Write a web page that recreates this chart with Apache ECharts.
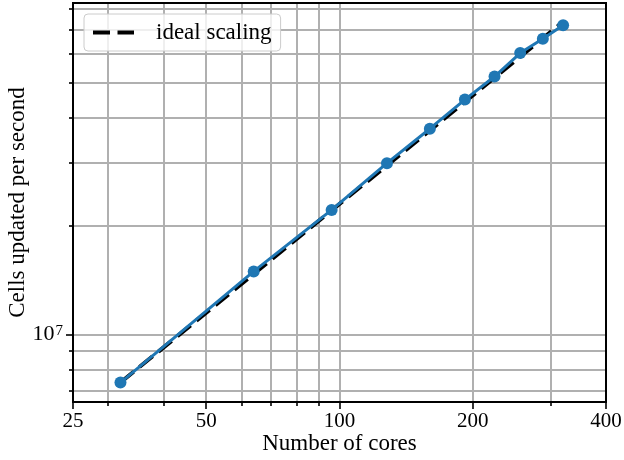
<!DOCTYPE html>
<html>
<head>
<meta charset="utf-8">
<script src="https://cdn.jsdelivr.net/npm/echarts@6/dist/echarts.min.js"></script>
<style>
  html, body { margin: 0; padding: 0; background: #fff; }
  #chart { width: 624px; height: 460px; }
</style>
</head>
<body>
<div id="chart"></div>
<script>
// Strong-scaling measurement: throughput against core count
const cores = [32, 64, 96, 128, 160, 192, 224, 256, 288, 320];
const cellsPerSecond = [7.36e6, 1.496e7, 2.215e7, 2.985e7, 3.72e7, 4.48e7, 5.19e7, 6.03e7, 6.61e7, 7.20e7];

// Ideal (linear) scaling reference line, from the 32-core run out to 320 cores
const idealCores = [32, 320];
const idealCells = [7.36e6, 7.36e7];

// Tick positions
const xMajorTicks = [25, 50, 100, 200, 400];
const xMinorTicks = [30, 40, 60, 70, 80, 90, 300];
const yMajorTicks = [1e7];
const yMinorTicks = [7e6, 8e6, 9e6, 2e7, 3e7, 4e7, 5e7, 6e7, 7e7, 8e7];

const FONT = 'Liberation Serif';
const GRID_COLOR = '#b0b0b0';
const X_RANGE = [25, 400];
const Y_RANGE = [6.5e6, 8.3e7];

const chart = echarts.init(document.getElementById('chart'), null, { renderer: 'canvas' });

const gridLine = { show: true, lineStyle: { color: GRID_COLOR, width: 2 } };
const tickStyle = { color: '#000', width: 1.6 };

const option = {
  animation: false,
  backgroundColor: '#fff',
  grid: {
    left: 73, right: 18, top: 3, bottom: 58,
    show: true,
    borderColor: '#000',
    borderWidth: 2,
    backgroundColor: 'transparent',
    outerBoundsMode: 'none',
    z: 10
  },
  legend: {
    data: ['ideal scaling'],
    selectedMode: false,
    left: 84,
    top: 14,
    padding: [7, 9],
    itemWidth: 41,
    itemHeight: 4,
    icon: 'path://M0 0h17v4H0z M24.5 0H41v4H24.5z',
    itemStyle: { borderWidth: 0 },
    textStyle: {
      fontFamily: FONT, fontSize: 23, color: '#000',
      lineHeight: 23, padding: [0, 0, 0, 17]
    },
    backgroundColor: 'rgba(255,255,255,0.8)',
    borderColor: '#cccccc',
    borderWidth: 1,
    borderRadius: 4,
    z: 12
  },
  xAxis: [
    {
      type: 'log', logBase: 2, min: X_RANGE[0], max: X_RANGE[1], position: 'bottom',
      axisLine: { show: false },
      axisTick: { show: true, inside: false, length: 7, customValues: xMajorTicks, lineStyle: tickStyle },
      axisLabel: {
        customValues: xMajorTicks, showMinLabel: true, showMaxLabel: true,
        fontFamily: FONT, fontSize: 21, color: '#000', margin: 9
      },
      splitLine: gridLine,
      name: 'Number of cores', nameLocation: 'middle', nameGap: 30, nameMoveOverlap: false,
      nameTextStyle: { fontFamily: FONT, fontSize: 23, color: '#000', lineHeight: 23 }
    },
    {
      type: 'log', logBase: 2, min: X_RANGE[0], max: X_RANGE[1], position: 'bottom',
      axisLine: { show: false },
      axisTick: { show: true, inside: false, length: 4, customValues: xMinorTicks, lineStyle: tickStyle },
      axisLabel: { show: false },
      splitLine: gridLine
    }
  ],
  yAxis: [
    {
      type: 'log', logBase: 10, min: Y_RANGE[0], max: Y_RANGE[1], position: 'left',
      axisLine: { show: false },
      axisTick: { show: true, inside: false, length: 7, customValues: yMajorTicks, lineStyle: tickStyle },
      axisLabel: {
        customValues: yMajorTicks, showMinLabel: false, showMaxLabel: false, margin: 10,
        fontFamily: FONT, fontSize: 21, color: '#000',
        formatter: v => '{b|10}{s|' + Math.round(Math.log10(v)) + '}',
        rich: {
          b: { fontFamily: FONT, fontSize: 22, color: '#000', lineHeight: 22 },
          s: { fontFamily: FONT, fontSize: 15, color: '#000', lineHeight: 15, verticalAlign: 'top', padding: [0, 0, 0, 1] }
        }
      },
      splitLine: gridLine,
      name: 'Cells updated per second', nameLocation: 'middle', nameGap: 44, nameRotate: 90,
      nameMoveOverlap: false,
      nameTextStyle: { fontFamily: FONT, fontSize: 23, color: '#000', lineHeight: 23 }
    },
    {
      type: 'log', logBase: 10, min: Y_RANGE[0], max: Y_RANGE[1], position: 'left',
      axisLine: { show: false },
      axisTick: { show: true, inside: false, length: 4, customValues: yMinorTicks, lineStyle: tickStyle },
      axisLabel: { show: false },
      splitLine: gridLine
    }
  ],
  series: [
    {
      name: 'ideal scaling',
      type: 'line',
      xAxisIndex: 0, yAxisIndex: 0,
      data: idealCores.map((c, i) => [c, idealCells[i]]),
      symbol: 'none',
      itemStyle: { color: '#000' },
      lineStyle: { color: '#000', width: 4, type: [17, 7.5], cap: 'butt' },
      z: 2
    },
    {
      name: 'measured',
      type: 'line',
      xAxisIndex: 0, yAxisIndex: 0,
      data: cores.map((c, i) => [c, cellsPerSecond[i]]),
      symbol: 'circle',
      symbolSize: 12,
      itemStyle: { color: '#1f77b4', borderWidth: 0 },
      lineStyle: { color: '#1f77b4', width: 3 },
      z: 3
    }
  ]
};

chart.setOption(option);
</script>
</body>
</html>
